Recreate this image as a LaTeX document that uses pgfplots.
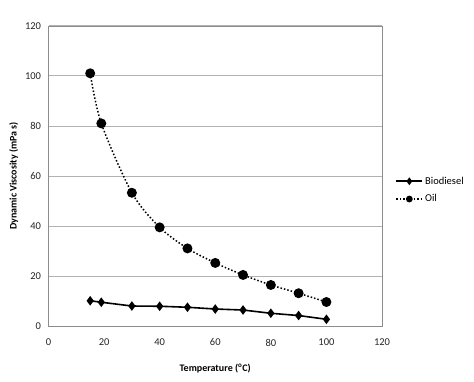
\documentclass[border=0pt]{standalone}
\usepackage{fontspec}
\setmainfont{Carlito}
\usepackage{pgfplots}
\pgfplotsset{compat=1.18}
\begin{document}
\begin{tikzpicture}[x=1pt,y=1pt]
\path[use as bounding box] (0,0) rectangle (474,381);
\begin{axis}[
  at={(48.5pt,54.7pt)}, anchor=south west,
  scale only axis, width=333.5pt, height=300.6pt,
  xmin=0, xmax=120, ymin=0, ymax=120,
  xtick={0,20,...,120}, ytick={0,20,...,120},
  major tick length=0pt,
  axis line style={draw=black!45},
  ymajorgrids, grid style={black!30, line width=0.8pt},
  tick label style={font=\fontsize{10.5}{12}\selectfont, text=black!85},
  /pgf/number format/assume math mode=true,
  xticklabel style={yshift=-9pt},
  yticklabel style={xshift=-4pt},
  xlabel={\textbf{Temperature (\textsuperscript{o}C)}},
  ylabel={\textbf{Dynamic Viscosity (mPa s)}},
  label style={font=\fontsize{10}{11}\selectfont},
  xlabel style={yshift=-11pt},
  ylabel style={yshift=0pt},
  legend style={at={(1.04,0.453)}, anchor=west, draw=none, fill=none,
    font=\fontsize{10.5}{12}\selectfont, row sep=5pt, inner sep=0pt},
  legend cell align=left,
  legend image code/.code={\draw[mark repeat=2,mark phase=2,mark size=2.6pt] plot coordinates {(0pt,0pt) (13pt,0pt) (26pt,0pt)};},
]
\addplot[black, line width=1.6pt, mark=diamond*, mark size=3.5pt, mark options={solid}]
  coordinates {(15,10.2) (19,9.6) (30,8.1) (40,8.0) (50,7.6) (60,6.9) (70,6.5) (80,5.2) (90,4.3) (100,2.8)};
\addlegendentry{Biodiesel}
\addplot[black, line width=1.5pt, dotted, smooth, mark=*, mark size=4.2pt, mark options={solid}]
  coordinates {(15,101.0) (19,81.0) (30,53.3) (40,39.5) (50,31.1) (60,25.3) (70,20.5) (80,16.5) (90,13.2) (100,9.7)};
\addlegendentry{Oil}
\end{axis}
\end{tikzpicture}
\end{document}
